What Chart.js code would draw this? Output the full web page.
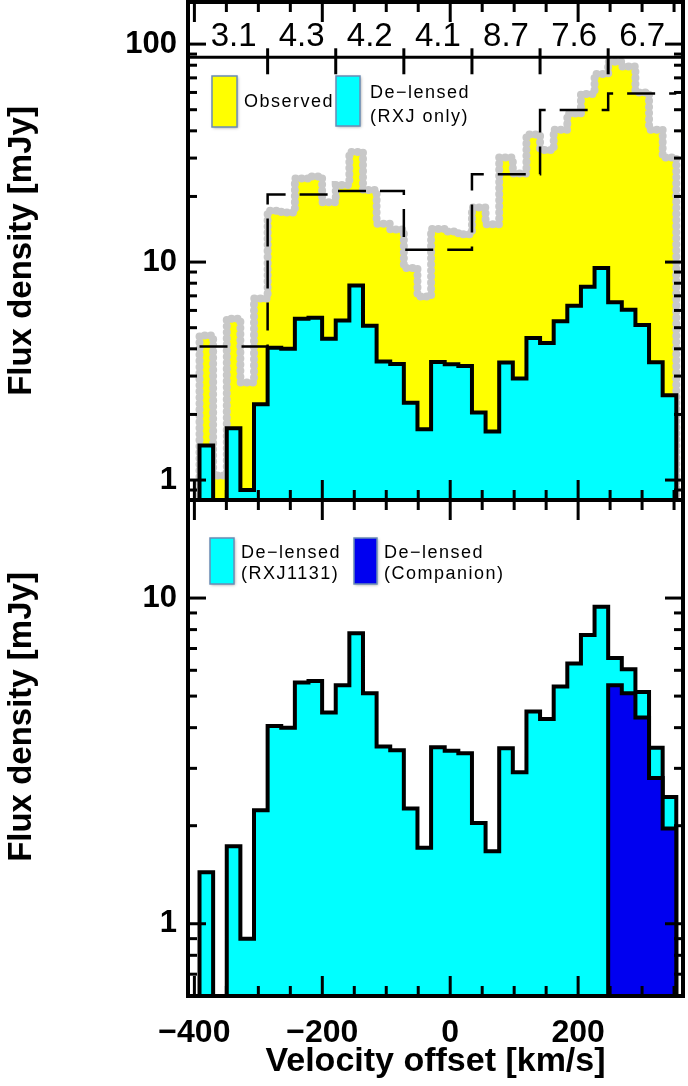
<html>
<head>
<meta charset="UTF-8">
<title>RXJ1131 CO spectrum</title>
<script src="https://cdn.jsdelivr.net/npm/chart.js"></script>
<style>
  body { margin: 0; background: #fff; }
  #wrap { position: relative; width: 688px; height: 1086px; }
  canvas { position: absolute; left: 0; }
</style>
</head>
<body>
<div id="wrap">
  <canvas id="topPanel" width="688" height="520" style="top:0px"></canvas>
  <canvas id="bottomPanel" width="688" height="606" style="top:480px"></canvas>
</div>
<script>
// channel edges [km/s] (35 channels)
const channelEdges = [-392, -370.7, -349.4, -328.1, -306.8, -285.5, -264.2, -242.9, -221.6, -200.3,
  -179.0, -157.7, -136.4, -115.1, -93.8, -72.5, -51.2, -29.9, -8.6, 12.7,
  34.0, 55.3, 76.6, 97.9, 119.2, 140.5, 161.8, 183.1, 204.4, 225.7,
  247.0, 268.3, 289.6, 310.9, 332.2, 353.5];

// observed flux density per channel [mJy]
const observed = [4.6, 1.05, 5.5, 2.8, 6.8, 17.2, 16.9, 24.2, 24.7, 18.8,
  22.6, 32, 21.4, 15, 14.1, 9.4, 6.95, 14.2, 13.8, 13.4,
  17.8, 14.9, 30.2, 25.5, 38.5, 32.7, 40.5, 48, 59, 73,
  83, 79, 60, 40.5, 30.2];

// de-lensed RXJ1131 per channel [mJy]
const delensedRXJ = [1.44, 0.33, 1.73, 0.9, 2.23, 4.05, 4.0, 5.5, 5.56, 4.45,
  5.4, 7.8, 5.1, 3.5, 3.41, 2.26, 1.71, 3.48, 3.4, 3.34,
  2.04, 1.67, 3.46, 2.92, 4.48, 4.25, 5.35, 6.3, 7.7, 9.4,
  6.55, 6.05, 5.15, 3.47, 2.45];

// de-lensed companion, from channel 30 on [mJy]
const companionFirstChannel = 30;
const delensedCompanion = [5.4, 5.1, 4.3, 2.8, 1.96];

// magnification bins (5 channels each) and mean observed flux per bin
const channelsPerBin = 5;
const magnification = ['3.1', '4.3', '4.2', '4.1', '8.7', '7.6', '6.7'];
const binMean = [4.1, 20.4, 21.2, 11.4, 25.3, 49.8, 59.3];

const xTickLabels = [-400, -200, 0, 200];
const yTickLabels = [1, 10, 100];

const FONT = "'Liberation Sans', Arial, Helvetica, sans-serif";
const FLOOR = 0.01;

// step outline for a histogram, closed down to the floor at both ends
function histPoints(values, first) {
  const pts = [{ x: channelEdges[first], y: FLOOR }];
  values.forEach((v, i) => pts.push({ x: channelEdges[first + i], y: v }));
  const last = first + values.length;
  pts.push({ x: channelEdges[last], y: values[values.length - 1] });
  pts.push({ x: channelEdges[last], y: FLOOR });
  return pts;
}

function binPoints() {
  const pts = binMean.map((v, k) => ({ x: channelEdges[k * channelsPerBin], y: v }));
  pts.push({ x: channelEdges[binMean.length * channelsPerBin], y: binMean[binMean.length - 1] });
  return pts;
}

function strokeLine(ctx, x1, y1, x2, y2) {
  ctx.beginPath(); ctx.moveTo(x1, y1); ctx.lineTo(x2, y2); ctx.stroke();
}

// frame, inward ticks, magnification strip, y title and legend boxes
const panelDecor = {
  id: 'panelDecor',
  afterDatasetsDraw(chart, args, opts) {
    const { ctx, chartArea: a, scales: { x, y } } = chart;
    ctx.save();
    ctx.strokeStyle = '#000';
    ctx.lineCap = 'butt';
    ctx.lineWidth = 3;
    for (let v = Math.ceil(x.min / 50) * 50; v <= x.max; v += 50) {
      const px = x.getPixelForValue(v);
      const len = v % 200 === 0 ? 20 : 10;
      strokeLine(ctx, px, a.bottom, px, a.bottom - len);
      strokeLine(ctx, px, a.top, px, a.top + len);
    }
    for (let e = Math.floor(Math.log10(y.min)); e <= Math.ceil(Math.log10(y.max)); e++) {
      for (let m = 1; m <= 9; m++) {
        const v = m * Math.pow(10, e);
        if (v < y.min || v > y.max) continue;
        const py = y.getPixelForValue(v);
        const len = m === 1 ? 18 : 9;
        strokeLine(ctx, a.left, py, a.left + len, py);
        strokeLine(ctx, a.right, py, a.right - len, py);
      }
    }

    if (opts.strip) {
      const sy = y.getPixelForValue(opts.strip);
      ctx.lineWidth = 3;
      strokeLine(ctx, a.left, sy, a.right, sy);
      for (let k = 1; k < magnification.length; k++) {
        const px = x.getPixelForValue(channelEdges[k * channelsPerBin]);
        strokeLine(ctx, px, sy - 9, px, sy + 17);
      }
      ctx.fillStyle = '#000';
      ctx.font = '33px ' + FONT;
      ctx.textAlign = 'center';
      ctx.textBaseline = 'middle';
      magnification.forEach((t, k) => {
        const x1 = x.getPixelForValue(channelEdges[k * channelsPerBin]);
        const x2 = x.getPixelForValue(channelEdges[(k + 1) * channelsPerBin]);
        ctx.fillText(t, (x1 + x2) / 2, sy - 20);
      });
    }

    ctx.lineWidth = 4;
    ctx.strokeRect(a.left, a.top, a.width, a.height);

    if (opts.yTitle) {
      ctx.save();
      ctx.translate(opts.yTitle.x, opts.yTitle.y);
      ctx.rotate(-Math.PI / 2);
      ctx.fillStyle = '#000';
      ctx.font = 'bold 33px ' + FONT;
      ctx.textAlign = 'center';
      ctx.textBaseline = 'middle';
      ctx.fillText(opts.yTitle.text, 0, 0);
      ctx.restore();
    }

    (opts.legend || []).forEach(it => {
      const bx = a.left + it.dx, by = a.top + it.dy;
      ctx.save();
      ctx.shadowColor = 'rgba(0,0,0,0.35)';
      ctx.shadowBlur = 3; ctx.shadowOffsetX = 1; ctx.shadowOffsetY = 1;
      ctx.fillStyle = it.color;
      ctx.fillRect(bx, by, it.w, it.h);
      ctx.restore();
      ctx.strokeStyle = '#6a8cb5';
      ctx.lineWidth = 1.5;
      ctx.strokeRect(bx, by, it.w, it.h);
      ctx.save();
      ctx.fillStyle = '#000';
      ctx.font = '18px ' + FONT;
      ctx.letterSpacing = '1.5px';
      ctx.textAlign = 'left';
      ctx.textBaseline = 'middle';
      it.text.forEach((t, k) => ctx.fillText(t, bx + it.w + it.gap, by + it.ty[k]));
      ctx.restore();
    });
    ctx.restore();
  }
};

function yAxis(min, max) {
  return {
    type: 'logarithmic', min: min, max: max,
    afterFit: s => { s.width = 188; s.paddingTop = 0; s.paddingBottom = 0; },
    grid: { display: false, drawTicks: false },
    border: { display: false },
    ticks: {
      autoSkip: false, padding: 11, color: '#000',
      font: { family: FONT, size: 31, weight: 'bold' },
      callback: v => yTickLabels.includes(v) ? String(v) : null
    }
  };
}

const base = {
  type: 'line',
  pointRadius: 0,
  stepped: 'before',
  clip: 0
};

new Chart(document.getElementById('topPanel'), {
  type: 'line',
  data: {
    datasets: [
      Object.assign({}, base, {
        label: 'De-lensed (RXJ only)', data: histPoints(delensedRXJ, 0),
        fill: 'start', backgroundColor: '#00ffff', borderColor: '#000', borderWidth: 4, order: 1
      }),
      Object.assign({}, base, {
        label: 'Bin mean', data: binPoints(),
        fill: false, borderColor: '#000', borderWidth: 2.5, borderDash: [28, 14], order: 2
      }),
      Object.assign({}, base, {
        label: 'Observed', data: histPoints(observed, 0),
        fill: 'start', backgroundColor: '#ffff00', borderColor: '#c8c8c8', borderWidth: 8,
        borderDash: [0.1, 6], borderCapStyle: 'round', order: 3
      })
    ]
  },
  options: {
    responsive: false, animation: false, devicePixelRatio: 1,
    layout: { padding: { top: 2, right: 5, bottom: 20, left: 0 } },
    plugins: {
      legend: { display: false }, tooltip: { enabled: false },
      panelDecor: {
        strip: 87,
        yTitle: { text: 'Flux density [mJy]', x: 22, y: 251 },
        legend: [
          { color: '#ffff00', dx: 24, dy: 74, w: 25, h: 51, gap: 7, text: ['Observed'], ty: [26] },
          { color: '#00ffff', dx: 148, dy: 74, w: 24, h: 50, gap: 10, text: ['De\u2212lensed', '(RXJ only)'], ty: [17, 41] }
        ]
      }
    },
    scales: {
      x: { type: 'linear', min: -410, max: 364, display: false },
      y: yAxis(0.81, 156)
    }
  },
  plugins: [panelDecor]
});

new Chart(document.getElementById('bottomPanel'), {
  type: 'line',
  data: {
    datasets: [
      Object.assign({}, base, {
        label: 'De-lensed (Companion)', data: histPoints(delensedCompanion, companionFirstChannel),
        fill: 'start', backgroundColor: '#0000f0', borderColor: '#000', borderWidth: 4, order: 1
      }),
      Object.assign({}, base, {
        label: 'De-lensed (RXJ1131)', data: histPoints(delensedRXJ, 0),
        fill: 'start', backgroundColor: '#00ffff', borderColor: '#000', borderWidth: 4, order: 2
      })
    ]
  },
  options: {
    responsive: false, animation: false, devicePixelRatio: 1,
    layout: { padding: { top: 20, right: 5, bottom: 0, left: 0 } },
    plugins: {
      legend: { display: false }, tooltip: { enabled: false },
      panelDecor: {
        yTitle: { text: 'Flux density [mJy]', x: 22, y: 237 },
        legend: [
          { color: '#00ffff', dx: 22, dy: 38, w: 24, h: 46, gap: 7, text: ['De\u2212lensed', '(RXJ1131)'], ty: [15, 36] },
          { color: '#0000f0', dx: 166, dy: 38, w: 23, h: 46, gap: 7, text: ['De\u2212lensed', '(Companion)'], ty: [15, 36] }
        ]
      }
    },
    scales: {
      x: {
        type: 'linear', min: -410, max: 364, position: 'bottom',
        afterBuildTicks: s => { s.ticks = xTickLabels.map(v => ({ value: v })); },
        afterFit: s => { s.height = 90; s.paddingLeft = 0; s.paddingRight = 0; },
        grid: { display: false, drawTicks: false },
        border: { display: false },
        ticks: {
          autoSkip: false, maxRotation: 0, padding: 18, color: '#000',
          font: { family: FONT, size: 32, weight: 'bold' },
          callback: v => v < 0 ? '\u2212' + Math.abs(v) : String(v)
        },
        title: {
          display: true, text: 'Velocity offset [km/s]', color: '#000',
          font: { family: FONT, size: 34, weight: 'bold' }, padding: { top: 0, bottom: 4 }
        }
      },
      y: yAxis(0.6, 20)
    }
  },
  plugins: [panelDecor]
});
</script>
</body>
</html>
